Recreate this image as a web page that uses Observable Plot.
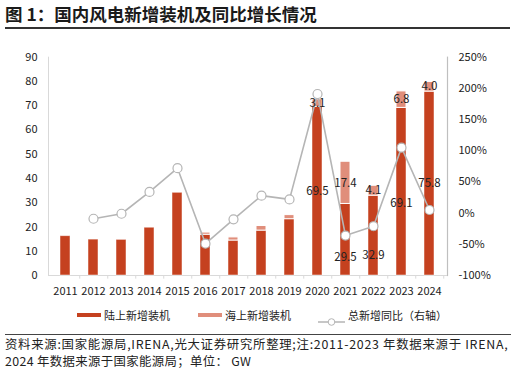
<!DOCTYPE html>
<html><head><meta charset="utf-8">
<script src="https://cdn.jsdelivr.net/npm/d3@7"></script>
<script src="https://cdn.jsdelivr.net/npm/@observablehq/plot@0.6"></script>
<style>
html,body{margin:0;padding:0;background:#fff;}
#wrap{position:relative;width:515px;height:374px;font-family:"Noto Sans CJK SC","Noto Sans",sans-serif;color:#222;overflow:hidden;}
#title{position:absolute;left:5px;top:2px;font-size:17.5px;font-weight:bold;line-height:24px;color:#1a1a1a;white-space:nowrap;}
#tline{position:absolute;left:5px;top:27px;width:505px;height:2px;background:#333;}
#chart{position:absolute;left:0;top:30px;}
.leg{position:absolute;top:307px;font-size:11px;line-height:16px;white-space:nowrap;color:#222;}
#fline{position:absolute;left:5px;top:334px;width:506px;height:1px;background:#444;}
.foot{position:absolute;left:5px;font-size:12.4px;line-height:14px;white-space:nowrap;color:#222;}
#f1{top:337px;letter-spacing:0.72px;}
#f2{top:354px;letter-spacing:0.35px;}
</style></head>
<body><div id="wrap">
<div id="title">图 1：国内风电新增装机及同比增长情况</div>
<div id="tline"></div>
<div id="chart"></div>
<div id="legend"></div>
<div id="fline"></div>
<div id="f1" class="foot">资料来源:国家能源局,IRENA,光大证券研究所整理;注:2011-2023 年数据来源于 IRENA,</div>
<div id="f2" class="foot">2024 年数据来源于国家能源局；单位： GW</div>
</div>
<script>
const years = ["2011","2012","2013","2014","2015","2016","2017","2018","2019","2020","2021","2022","2023","2024"];
const onshore = [16.2,14.8,14.7,19.7,34.1,16.8,14.4,18.5,23.2,69.5,29.5,32.9,69.1,75.8];
const offshore = [0,0,0,0,0,0.9,1.3,1.9,1.7,3.1,17.4,4.1,6.8,4.0];
const growth = [null,-9,-1,34,72,-49,-10,28,22,191,-36,-21,105,5];
const labeledYears = ["2020","2021","2022","2023","2024"];
const leftTicks = [0,10,20,30,40,50,60,70,80,90];
const rightTicks = [-100,-50,0,50,100,150,200,250];
const seriesNames = ["陆上新增装机","海上新增装机","总新增同比（右轴）"];

const C_ON = "#c5411f", C_OFF = "#e08e7b", C_LINE = "#b5b5b5";
const toLeft = p => (p + 100) * 90 / 350;
const rows = years.map((y, i) => ({year: y, on: onshore[i], off: offshore[i], g: growth[i]}));
const lineRows = rows.filter(d => d.g != null);
const lab = rows.filter(d => labeledYears.includes(d.year));
const onDy = {"2021": 18, "2022": 20, "2023": 12};

const W = 515, mL = 48, mR = 68;
const step = (W - mL - mR) / years.length;
const font = '"Noto Sans CJK SC","Noto Sans",sans-serif';

const plot = Plot.plot({
  width: W, height: 275,
  marginTop: 26.7, marginBottom: 30, marginLeft: mL, marginRight: mR,
  style: {fontFamily: font, fontSize: "11px", color: "#222", background: "transparent"},
  x: {type: "band", domain: years, paddingInner: 0.63, paddingOuter: 0.315, label: null},
  y: {domain: [0, 90], label: null},
  marks: [
    Plot.frame({anchor: "left", stroke: "#d9d9d9"}),
    Plot.frame({anchor: "right", stroke: "#bfbfbf", strokeWidth: 1.2}),
    Plot.ruleY([0], {stroke: "#d9d9d9"}),
    Plot.ruleX(years, {x: d => d, dx: step / 2, y1: 0, y2: -1.5, stroke: "#d9d9d9"}),
    Plot.barY(rows, {x: "year", y1: 0, y2: "on", fill: C_ON, stroke: "#fff", strokeWidth: 0.8, strokeOpacity: 0.6}),
    Plot.barY(rows.filter(d => d.off > 0), {x: "year", y1: "on", y2: d => d.on + d.off, fill: C_OFF, stroke: "#fff", strokeWidth: 1}),
    Plot.line(lineRows, {x: "year", y: d => toLeft(d.g), stroke: C_LINE, strokeWidth: 1.6}),
    Plot.dot(lineRows, {x: "year", y: d => toLeft(d.g), r: 4.5, fill: "#fff", stroke: C_LINE, strokeWidth: 1.2}),
    Plot.text(lab, {x: "year", y: d => d.on / 2, text: d => d.on.toFixed(1), fill: "#222", fontSize: 11.5}),
    Plot.text(lab, {x: "year", y: d => d.on + d.off / 2, text: d => d.off.toFixed(1), fill: "#222", fontSize: 11.5}),
    Plot.axisY(leftTicks, {anchor: "left", label: null, tickSize: 0, tickPadding: 11, fontSize: 11, fill: "#222"}),
    Plot.axisY(rightTicks.map(toLeft), {anchor: "right", label: null, tickSize: 0, tickPadding: 11, fontSize: 11, fill: "#222",
      tickFormat: v => Math.round(v * 350 / 90 - 100) + "%"}),
    Plot.axisX({label: null, tickSize: 0, tickPadding: 12, fontSize: 11, fill: "#222"})
  ]
});
document.getElementById("chart").appendChild(plot);
// shift onshore labels that were moved in the source
const textGroups = plot.querySelectorAll('g[aria-label="text"]');
if (textGroups.length) {
  const texts = textGroups[0].querySelectorAll("text");
  texts.forEach((t, i) => {
    const d = lab[i];
    if (d && onDy[d.year]) t.setAttribute("dy", (parseFloat(t.getAttribute("dy") || 0) + onDy[d.year]));
  });
}

// legend
const leg = document.getElementById("legend");
const items = [
  {x: 77, name: seriesNames[0], kind: "bar", color: C_ON},
  {x: 198, name: seriesNames[1], kind: "bar", color: C_OFF},
  {x: 318, name: seriesNames[2], kind: "line", color: C_LINE}
];
items.forEach(it => {
  const sw = document.createElement("div");
  sw.style.position = "absolute";
  if (it.kind === "bar") {
    sw.style.left = it.x + "px"; sw.style.top = "313px"; sw.style.width = "24px"; sw.style.height = "4px";
    sw.style.background = it.color;
  } else {
    sw.style.left = it.x + "px"; sw.style.top = "309px"; sw.style.width = "27px"; sw.style.height = "12px";
    sw.innerHTML = '<svg width="27" height="12"><line x1="0" y1="6" x2="27" y2="6" stroke="' + it.color + '" stroke-width="1.5"/><circle cx="13.5" cy="6" r="3.3" fill="#fff" stroke="' + it.color + '" stroke-width="1"/></svg>';
  }
  leg.appendChild(sw);
  const t = document.createElement("div");
  t.className = "leg";
  t.style.left = (it.x + (it.kind === "bar" ? 27 : 30)) + "px";
  t.textContent = it.name;
  leg.appendChild(t);
});
</script>
</body></html>
